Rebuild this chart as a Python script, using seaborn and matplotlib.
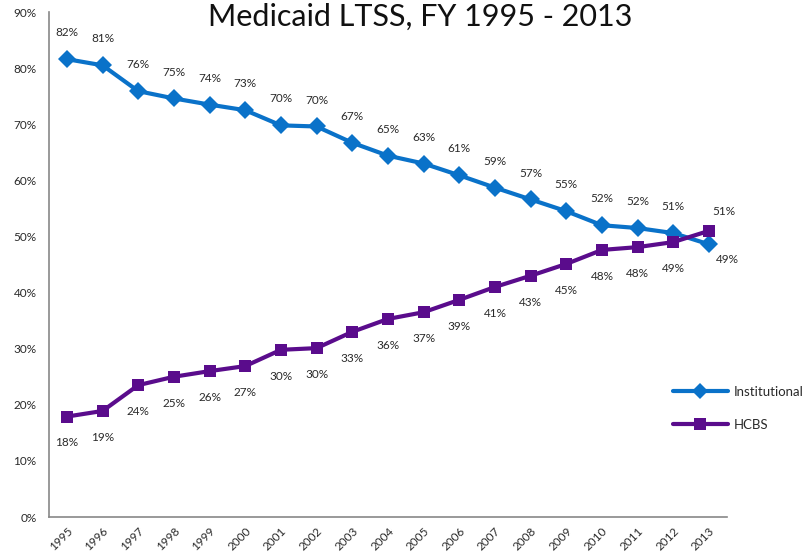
import matplotlib
matplotlib.use("Agg")
import matplotlib.pyplot as plt
import seaborn as sns
import pandas as pd

years = [str(y) for y in range(1995, 2014)]
institutional = [81.6, 80.5, 75.9, 74.6, 73.5, 72.5, 69.8, 69.6, 66.7, 64.4, 63.0, 60.9, 58.7, 56.6, 54.5, 52.0, 51.5, 50.6, 48.6]
hcbs = [17.9, 18.9, 23.5, 25.0, 26.0, 26.9, 29.8, 30.1, 33.0, 35.3, 36.5, 38.7, 41.0, 43.0, 45.1, 47.6, 48.1, 49.0, 51.0]
inst_labels = ["82%", "81%", "76%", "75%", "74%", "73%", "70%", "70%", "67%", "65%", "63%", "61%", "59%", "57%", "55%", "52%", "52%", "51%", "49%"]
hcbs_labels = ["18%", "19%", "24%", "25%", "26%", "27%", "30%", "30%", "33%", "36%", "37%", "39%", "41%", "43%", "45%", "48%", "48%", "49%", "51%"]
series_names = ["Institutional", "HCBS"]
colors = {"Institutional": "#0A72C9", "HCBS": "#5A0C8C"}
title = "Medicaid LTSS, FY 1995 - 2013"

sns.set_theme(style="white")
plt.rcParams['font.family'] = ['Lato', 'DejaVu Sans']

df = pd.DataFrame({
    "idx": list(range(len(years))) * 2,
    "value": institutional + hcbs,
    "series": ["Institutional"] * len(years) + ["HCBS"] * len(years),
})

fig = plt.figure(figsize=(8.04, 5.59), dpi=100)
ax = fig.add_axes([0.061, 0.0751, 0.843, 0.9034])

sns.lineplot(data=df, x="idx", y="value", hue="series", style="series",
             hue_order=series_names, style_order=series_names,
             markers={"Institutional": "D", "HCBS": "s"}, dashes=False,
             palette=colors, linewidth=3, markersize=9, markeredgewidth=0,
             ax=ax, legend=False)

txtc = "#2a2a2a"
n = len(years)
for i in range(n):
    if i == n - 1:
        ax.annotate(inst_labels[i], (i, institutional[i]), xytext=(13, -11), textcoords="offset points",
                    ha="center", va="center", fontsize=8.5, color=txtc)
        ax.annotate(hcbs_labels[i], (i, hcbs[i]), xytext=(11, 14), textcoords="offset points",
                    ha="center", va="center", fontsize=8.5, color=txtc)
    else:
        ax.annotate(inst_labels[i], (i, institutional[i]), xytext=(0, 19), textcoords="offset points",
                    ha="center", va="center", fontsize=8.5, color=txtc)
        ax.annotate(hcbs_labels[i], (i, hcbs[i]), xytext=(0, -19), textcoords="offset points",
                    ha="center", va="center", fontsize=8.5, color=txtc)

ax.set_xlim(-0.5, n - 0.5)
ax.set_ylim(0, 90)
ax.set_yticks(range(0, 91, 10))
ax.set_yticklabels([f"{v}%" for v in range(0, 91, 10)], fontsize=8.5, color=txtc)
ax.set_xticks([i - 0.5 for i in range(n + 1)])
ax.set_xticklabels([""] * (n + 1))
ax.set_xticks(range(n), minor=True)
ax.set_xticklabels(years, minor=True, rotation=45, ha="right", rotation_mode="anchor", fontsize=8.5, color=txtc)
ax.tick_params(axis="x", which="minor", length=0, pad=6)
ax.tick_params(axis="x", which="major", length=5, width=1, color="#888888", direction="out")
ax.tick_params(axis="y", length=5, width=1, color="#888888", direction="out", pad=4)
ax.set_xlabel("")
ax.set_ylabel("")
for s in ["top", "right"]:
    ax.spines[s].set_visible(False)
for s in ["left", "bottom"]:
    ax.spines[s].set_color("#888888")
    ax.spines[s].set_linewidth(1.2)

from matplotlib.lines import Line2D
handles = [Line2D([0], [0], color=colors["Institutional"], lw=3, marker="D", markersize=8, markeredgewidth=0),
           Line2D([0], [0], color=colors["HCBS"], lw=3, marker="s", markersize=9, markeredgewidth=0)]
fig.legend(handles, series_names, loc="center left", bbox_to_anchor=(0.822, 0.27), frameon=False,
           fontsize=9.5, handlelength=4.2, labelspacing=1.6, handletextpad=0.4, labelcolor=txtc)

fig.text(0.522, 0.970, title, ha="center", va="center", fontsize=22, color="#111111")

fig.savefig("out.png", dpi=100)
